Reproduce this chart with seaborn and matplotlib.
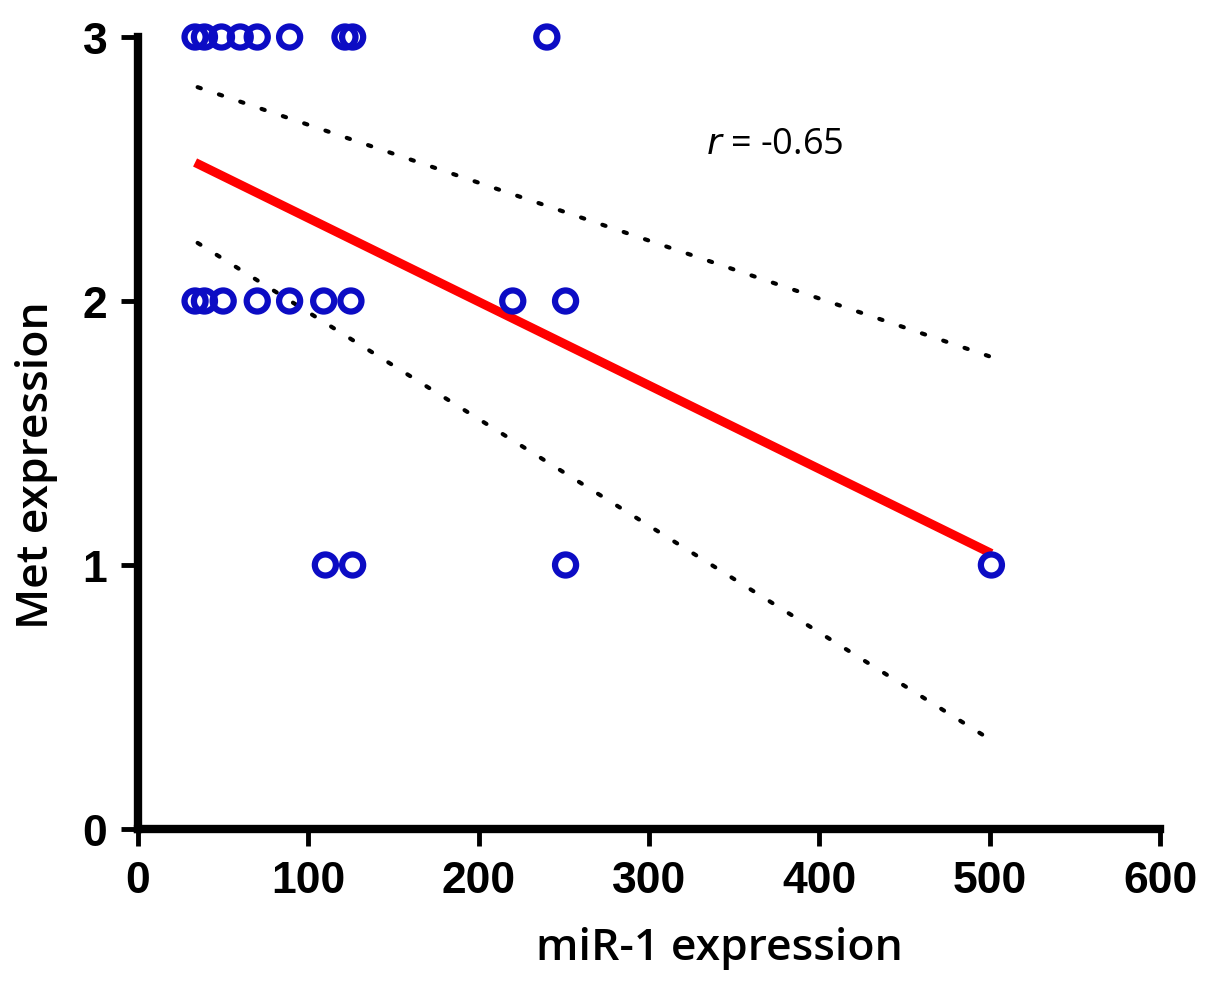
import numpy as np
import pandas as pd
import seaborn as sns
import matplotlib.pyplot as plt

# miR-1 expression vs Met expression
mir1_score3 = [33.5, 39, 49, 60, 70, 89, 121.5, 126, 240]
mir1_score2 = [33.5, 39, 50, 70, 89, 109, 125, 220, 251]
mir1_score1 = [110, 126, 251, 501]

# dotted confidence band endpoints
band_x = [35, 500]
band_upper = [2.81, 1.79]
band_lower = [2.22, 0.34]

x_ticks = [0, 100, 200, 300, 400, 500, 600]
y_ticks = [0, 1, 2, 3]

df = pd.DataFrame({
    'mir1': mir1_score3 + mir1_score2 + mir1_score1,
    'met': [3] * len(mir1_score3) + [2] * len(mir1_score2) + [1] * len(mir1_score1),
})

sns.set_style('ticks')
plt.rcParams['font.family'] = ['Liberation Sans', 'DejaVu Sans']
plt.rcParams['text.color'] = 'black'
plt.rcParams['axes.labelcolor'] = 'black'
plt.rcParams['xtick.color'] = 'black'
plt.rcParams['ytick.color'] = 'black'
plt.rcParams['axes.edgecolor'] = 'black'

fig = plt.figure(figsize=(12.17, 10.03), dpi=100)
ax = fig.add_axes([0.1134, 0.1725, 0.8398, 0.7896])

# regression line
sns.regplot(data=df, x='mir1', y='met', ax=ax, scatter=False, ci=None, truncate=True,
            line_kws={'color': '#ff0000', 'linewidth': 6.5, 'solid_capstyle': 'butt', 'zorder': 2})

# dotted bands
for yy in (band_upper, band_lower):
    ax.plot(band_x, yy, color='black', linestyle=(0, (0.8, 4.6)), linewidth=3,
            dash_capstyle='round', zorder=1)

# open circles
sns.scatterplot(data=df, x='mir1', y='met', ax=ax, s=230, facecolor='none',
                edgecolor='#0c0cc4', linewidth=4.5, zorder=3, clip_on=False)

ax.set_xlim(0, 600)
ax.set_ylim(0, 3)
ax.set_xticks(x_ticks)
ax.set_yticks(y_ticks)
ax.tick_params(axis='both', width=3.5, length=12, labelsize=32, pad=10)
for lab in ax.get_xticklabels() + ax.get_yticklabels():
    lab.set_fontweight('bold')

sns.despine(ax=ax)
ax.spines['left'].set_linewidth(6)
ax.spines['bottom'].set_linewidth(6)

ax.set_xlabel('miR-1 expression', fontsize=32, fontweight='semibold',
              family=['Open Sans', 'DejaVu Sans'])
ax.set_ylabel('Met expression', fontsize=32, fontweight='semibold',
              family=['Open Sans', 'DejaVu Sans'])
ax.xaxis.set_label_coords(0.569, -0.122)
ax.yaxis.set_label_coords(-0.078, 0.461)

ax.text(0.556, 0.865, r'$r$ = -0.65', transform=ax.transAxes, fontsize=26,
        ha='left', va='center', family=['Open Sans', 'DejaVu Sans'])

fig.savefig('out.png', dpi=100)
